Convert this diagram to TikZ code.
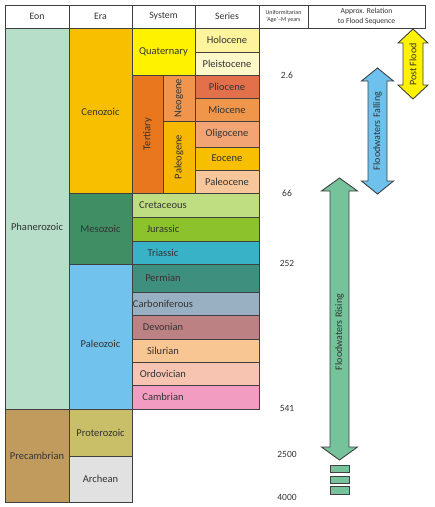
\documentclass[tikz,border=0pt]{standalone}
\usepackage{fontspec}
\setmainfont{Carlito}
\definecolor{linec}{HTML}{404040}
\definecolor{txtc}{HTML}{333333}
\definecolor{cPhan}{HTML}{B6DEC9}
\definecolor{cPrec}{HTML}{C19B5E}
\definecolor{cCeno}{HTML}{F7BF00}
\definecolor{cMeso}{HTML}{3F8E64}
\definecolor{cPaleoz}{HTML}{71C3EE}
\definecolor{cProt}{HTML}{C8BF68}
\definecolor{cArch}{HTML}{E1E1E1}
\definecolor{cQuat}{HTML}{FFF200}
\definecolor{cHolo}{HTML}{FEF49E}
\definecolor{cPleis}{HTML}{FFF9C9}
\definecolor{cTert}{HTML}{E8771E}
\definecolor{cNeog}{HTML}{F0954B}
\definecolor{cPaleog}{HTML}{F7B800}
\definecolor{cPlio}{HTML}{E2704A}
\definecolor{cMio}{HTML}{F0964B}
\definecolor{cOligo}{HTML}{F3A474}
\definecolor{cEoc}{HTML}{F7BF00}
\definecolor{cPaleoc}{HTML}{F7C69B}
\definecolor{cCret}{HTML}{BFDE82}
\definecolor{cJur}{HTML}{8CC22C}
\definecolor{cTri}{HTML}{37B2C6}
\definecolor{cPerm}{HTML}{3F8F7F}
\definecolor{cCarb}{HTML}{98B0C2}
\definecolor{cDev}{HTML}{BC8283}
\definecolor{cSil}{HTML}{F8C693}
\definecolor{cOrd}{HTML}{F8C4B2}
\definecolor{cCamb}{HTML}{F29CC2}
\definecolor{cPost}{HTML}{FFF200}
\definecolor{cFall}{HTML}{6EC1EC}
\definecolor{cRise}{HTML}{76C39B}
\tikzset{
  cellline/.style={draw=linec, line width=0.9pt},
  lbl/.style={text=txtc, font=\fontsize{10.5}{12}\selectfont, inner sep=0pt},
  hdr/.style={text=txtc, font=\fontsize{9.8}{12}\selectfont, inner sep=0pt},
  smallhdr/.style={text=txtc, font=\fontsize{6}{7.4}\selectfont, align=center, inner sep=0pt},
  midhdr/.style={text=txtc, font=\fontsize{7.6}{10.5}\selectfont, align=center, inner sep=0pt},
  agelbl/.style={text=txtc, font=\fontsize{9.5}{11}\selectfont, inner sep=0pt},
  arrline/.style={draw=linec, line width=0.9pt, line join=miter},
  arrlbl/.style={text=txtc, font=\fontsize{10}{12}\selectfont, inner sep=0pt, rotate=90},
}
% #1 name, #2 x1, #3 y1, #4 x2, #5 y2, #6 colour, #7 text
\newcommand{\gcell}[7]{%
  \draw[cellline, fill=#6] (#2,#3) rectangle (#4,#5);
  \node[lbl] (#1) at ({(#2+#4)/2},{(#3+#5)/2}) {#7};}
% rotated label cell
\newcommand{\rcell}[7]{%
  \draw[cellline, fill=#6] (#2,#3) rectangle (#4,#5);
  \node[lbl, rotate=90] (#1) at ({(#2+#4)/2},{(#3+#5)/2}) {#7};}
% double vertical arrow: #1 x, #2 ytop, #3 ybot, #4 shaft half, #5 head half, #6 head length, #7 colour
\newcommand{\vdarrow}[7]{%
  \draw[arrline, fill=#7] (#1,#2) -- (#1+#5,#2+#6) -- (#1+#4,#2+#6) -- (#1+#4,#3-#6)
   -- (#1+#5,#3-#6) -- (#1,#3) -- (#1-#5,#3-#6) -- (#1-#4,#3-#6) -- (#1-#4,#2+#6)
   -- (#1-#5,#2+#6) -- cycle;}
\begin{document}
\begin{tikzpicture}[x=1pt,y=-1pt]
\useasboundingbox (0,0) rectangle (435,507);
% header
\draw[cellline, fill=white] (5,5) rectangle (425,28);
\foreach \xx in {69,132,195,259,308} \draw[cellline] (\xx,5) -- (\xx,28);
\node[hdr] (hEon) at (37,16.5) {Eon};
\node[hdr] (hEra) at (100.5,16.5) {Era};
\node[hdr] (hSys) at (163.5,16.5) {System};
\node[hdr] (hSer) at (227,16.5) {Series};
\node[smallhdr] (hAge) at (283.5,16.5) {Uniformitarian\\`Age'--M years};
\node[midhdr] (hRel) at (366.5,16.5) {Approx. Relation\\to Flood Sequence};
% eons
\draw[cellline, fill=cPhan] (5,28) rectangle (69,409);
\node[lbl] (phan) at (37,226.5) {Phanerozoic};
\gcell{prec}{5}{409}{69}{502}{cPrec}{Precambrian}
% eras
\draw[cellline, fill=cCeno] (69,28) rectangle (132,193);
\node[lbl] (ceno) at (100.5,112) {Cenozoic};
\gcell{meso}{69}{193}{132}{264}{cMeso}{Mesozoic}
\draw[cellline, fill=cPaleoz] (69,264) rectangle (132,409);
\node[lbl] (paleoz) at (100.5,344) {Paleozoic};
\gcell{prot}{69}{409}{132}{456}{cProt}{Proterozoic}
\gcell{arch}{69}{456}{132}{502}{cArch}{Archean}
% systems
\gcell{quat}{132}{28}{195}{75}{cQuat}{Quaternary}
\rcell{tert}{132}{75}{163}{193}{cTert}{Tertiary}
\rcell{neog}{163}{75}{195}{121}{cNeog}{Neogene}
\rcell{paleog}{163}{121}{195}{193}{cPaleog}{Paleogene}
% series
\gcell{holo}{195}{28}{259}{52}{cHolo}{Holocene}
\gcell{pleis}{195}{52}{259}{75}{cPleis}{Pleistocene}
\gcell{plio}{195}{75}{259}{98}{cPlio}{Pliocene}
\gcell{mio}{195}{98}{259}{121}{cMio}{Miocene}
\gcell{oligo}{195}{121}{259}{147}{cOligo}{Oligocene}
\gcell{eoc}{195}{147}{259}{170}{cEoc}{Eocene}
\gcell{paleoc}{195}{170}{259}{193}{cPaleoc}{Paleocene}
% periods
\foreach \nm/\ya/\yb/\cc/\tt in {cret/193/217/cCret/Cretaceous, jur/217/241/cJur/Jurassic,
  tri/241/264/cTri/Triassic, perm/264/292/cPerm/Permian, carb/292/315/cCarb/Carboniferous,
  dev/315/339/cDev/Devonian, sil/339/362/cSil/Silurian, ord/362/385/cOrd/Ordovician,
  camb/385/409/cCamb/Cambrian}{
  \draw[cellline, fill=\cc] (132,\ya) rectangle (259,\yb);
  \node[lbl] (\nm) at (163,{(\ya+\yb)/2}) {\tt};
}
% ages
\node[agelbl] (a1) at (287,75) {2.6};
\node[agelbl] (a2) at (287,193) {66};
\node[agelbl] (a3) at (287,263) {252};
\node[agelbl] (a4) at (287,408) {541};
\node[agelbl] (a5) at (287,454) {2500};
\node[agelbl] (a6) at (287,497) {4000};
% arrows
\vdarrow{413}{29}{99}{10}{15}{14}{cPost}
\node[arrlbl] (post) at (413,64.5) {Post Flood};
\vdarrow{377.5}{68}{194}{9.5}{16}{13}{cFall}
\node[arrlbl] (fall) at (377.5,131) {Floodwaters Falling};
\vdarrow{339.5}{178}{460}{9.5}{18}{13}{cRise}
\node[arrlbl] (rise) at (339.5,332) {Floodwaters Rising};
\draw[arrline, fill=cRise] (330,465) rectangle (349,472);
\draw[arrline, fill=cRise] (330,476) rectangle (349,483);
\draw[arrline, fill=cRise] (330,486.5) rectangle (349,494);
\end{tikzpicture}
\end{document}
